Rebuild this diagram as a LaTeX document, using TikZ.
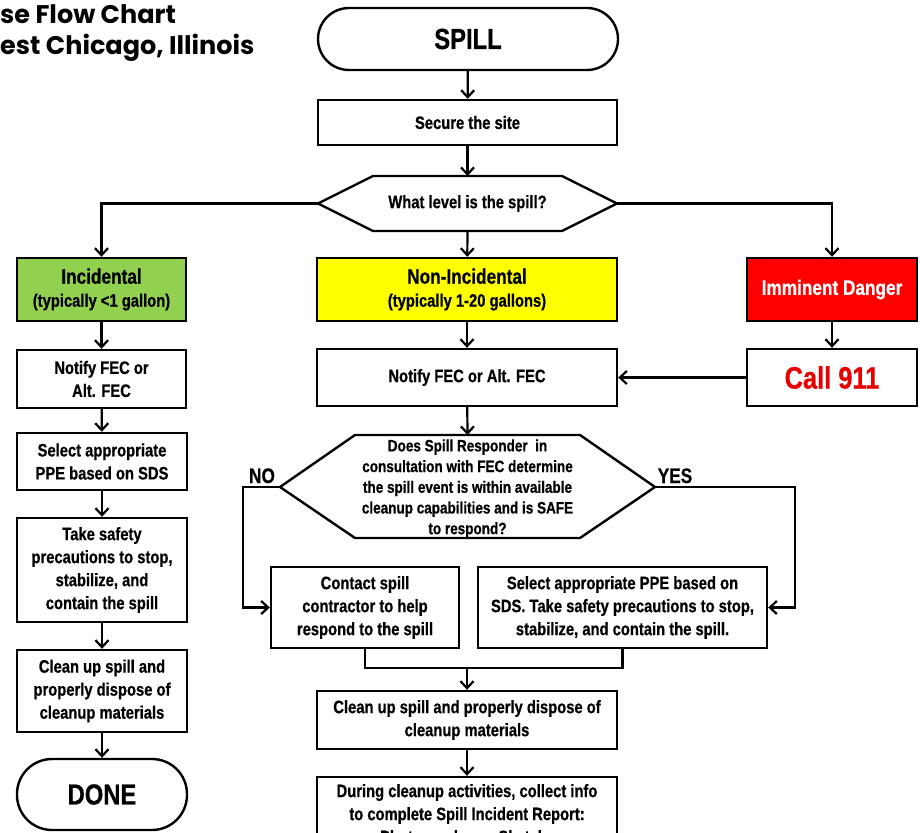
\documentclass[tikz,border=0pt]{standalone}
\usepackage{fontspec}
\newfontfamily\cond[FakeStretch=0.82, BoldFeatures={FakeBold=0.6}]{Liberation Sans}
\newfontfamily\titlefont{Poppins}
\usetikzlibrary{arrows.meta}
\definecolor{incgreen}{HTML}{92D050}
\definecolor{nonyellow}{HTML}{FFFF00}
\definecolor{dangred}{HTML}{FF0000}
\definecolor{callred}{HTML}{E60000}
\newcommand{\fsz}[2]{\fontsize{#1pt}{#2pt}\selectfont}
\begin{document}
\begin{tikzpicture}[x=1pt,y=-1pt,
  box/.style={draw, line width=2.4pt, fill=white, align=center, inner sep=0pt,
    font=\cond\bfseries\fsz{18}{23}},
  term/.style={box, rounded corners=31pt},
  hexline/.style={draw, line width=2.4pt, fill=white, line join=miter},
  txt/.style={align=center, inner sep=0pt, font=\cond\bfseries\fsz{18}{23}},
  ln/.style={line width=2.2pt},
  conn/.style={line width=2.2pt, -{Straight Barb[length=7pt,width=13pt,line width=2.2pt]}},
  titletxt/.style={inner sep=0pt, anchor=base west, font=\titlefont\fsz{25.5}{30}}
]
\useasboundingbox (0,0) rectangle (920,832);
\clip (0,0) rectangle (920,832);
\fill[white] (0,0) rectangle (920,832);

% title (cut at left edge as in the reference)
\node[titletxt] (t1) at (0,24) {\bfseries se Flow Chart};
\node[titletxt] (t2) at (0,55) {\bfseries est Chicago, Illinois};

% top
\node[term, minimum width=300pt, minimum height=62pt, font=\cond\bfseries\fsz{29}{32}] (spill) at (468,39) {SPILL};
\node[box, minimum width=299pt, minimum height=45pt] (secure) at (467.5,122.5) {Secure the site};

% hexagon 1
\coordinate (h1L) at (318,203.5);
\coordinate (h1R) at (617,203.5);
\coordinate (h1T) at (467.5,176);
\coordinate (h1B) at (467.5,231);
\draw[hexline] (h1L) -- (373,176) -- (562,176) -- (h1R) -- (562,231) -- (373,231) -- cycle;
\node[txt] (h1) at (467.5,203.5) {What level is the spill?};

% level boxes
\node[box, fill=incgreen, minimum width=169pt, minimum height=63pt] (green) at (101.5,289.5)
  {{\fsz{21}{25}Incidental}\\(typically <1 gallon)};
\node[box, fill=nonyellow, minimum width=300pt, minimum height=63pt] (yellow) at (467,289.5)
  {{\fsz{21}{25}Non-Incidental}\\(typically 1-20 gallons)};
\node[box, fill=dangred, text=white, minimum width=170pt, minimum height=63pt, font=\cond\bfseries\fsz{21}{25}] (red) at (832,289.5)
  {Imminent Danger};

% second row
\node[box, minimum width=169pt, minimum height=58pt] (notL) at (101.5,379) {Notify FEC or\\Alt. FEC};
\node[box, minimum width=300pt, minimum height=57pt] (notC) at (467,377.5) {Notify FEC or Alt. FEC};
\node[box, text=callred, minimum width=170pt, minimum height=57pt, font=\cond\bfseries\fsz{31}{34}] (call) at (832,377.5) {Call 911};

% left column
\node[box, minimum width=170pt, minimum height=57pt] (selL) at (102,461.5) {Select appropriate\\PPE based on SDS};
\node[box, minimum width=170pt, minimum height=104pt] (take) at (102,570) {Take safety\\precautions to stop,\\stabilize, and\\contain the spill};
\node[box, minimum width=170pt, minimum height=82pt] (cleanL) at (102,691) {Clean up spill and\\properly dispose of\\cleanup materials};
\node[term, rounded corners=35pt, minimum width=170pt, minimum height=71pt, font=\cond\bfseries\fsz{29}{32}] (done) at (102,794.5) {DONE};

% hexagon 2
\coordinate (h2L) at (280,487);
\coordinate (h2R) at (655,487);
\coordinate (h2T) at (467.5,435);
\coordinate (h2B) at (467.5,538);
\draw[hexline] (h2L) -- (355,435) -- (580,435) -- (h2R) -- (580,538) -- (355,538) -- cycle;
\node[txt, font=\cond\bfseries\fsz{16.5}{20.7}] (h2) at (467.5,488.5)
  {Does Spill Responder\ \ in\\consultation with FEC determine\\the spill event is within available\\cleanup capabilities and is SAFE\\to respond?};
\node[inner sep=0pt, anchor=base, font=\cond\bfseries\fsz{21}{24}] (no) at (262,483) {NO};
\node[inner sep=0pt, anchor=base, font=\cond\bfseries\fsz{21}{24}] (yes) at (675,483) {YES};

% responses
\node[box, minimum width=188pt, minimum height=81pt] (contact) at (365,607.5) {Contact spill\\contractor to help\\respond to the spill};
\node[box, minimum width=289pt, minimum height=81pt] (selC) at (622.5,607.5) {Select appropriate PPE based on\\SDS. Take safety precautions to stop,\\stabilize, and contain the spill.};
\coordinate (join) at (467,668);
\node[box, minimum width=300pt, minimum height=58pt] (cleanC) at (467,720) {Clean up spill and properly dispose of\\cleanup materials};
\node[box, minimum width=300pt, minimum height=77pt] (during) at (467,815.5) {During cleanup activities, collect info\\to complete Spill Incident Report:\\\textbullet\ Photographs\quad\textbullet\ Sketches};

\coordinate (noC) at (243,487);
\coordinate (yesC) at (795,487);

% connectors
\draw[conn] (spill) -- (secure);
\draw[conn] (secure) -- (h1T);
\draw[conn] (h1B) -- (yellow);
\draw[conn] (h1L) -| (green.north);
\draw[conn] (h1R) -| (red.north);
\draw[conn] (green) -- (notL);
\draw[conn] (notL) -- (selL);
\draw[conn] (selL) -- (take);
\draw[conn] (take) -- (cleanL);
\draw[conn] (cleanL) -- (done);
\draw[conn] (yellow) -- (notC);
\draw[conn] (red) -- (call);
\draw[conn] (call) -- (notC);
\draw[conn] (notC) -- (h2T);
\draw[conn] (h2L) -- (noC) |- (contact.west);
\draw[conn] (h2R) -- (yesC) |- (selC.east);
\draw[ln] (contact.south) |- (join) -| (selC.south);
\draw[conn] (join) -- (cleanC);
\draw[conn] (cleanC) -- (during);
\end{tikzpicture}
\end{document}
